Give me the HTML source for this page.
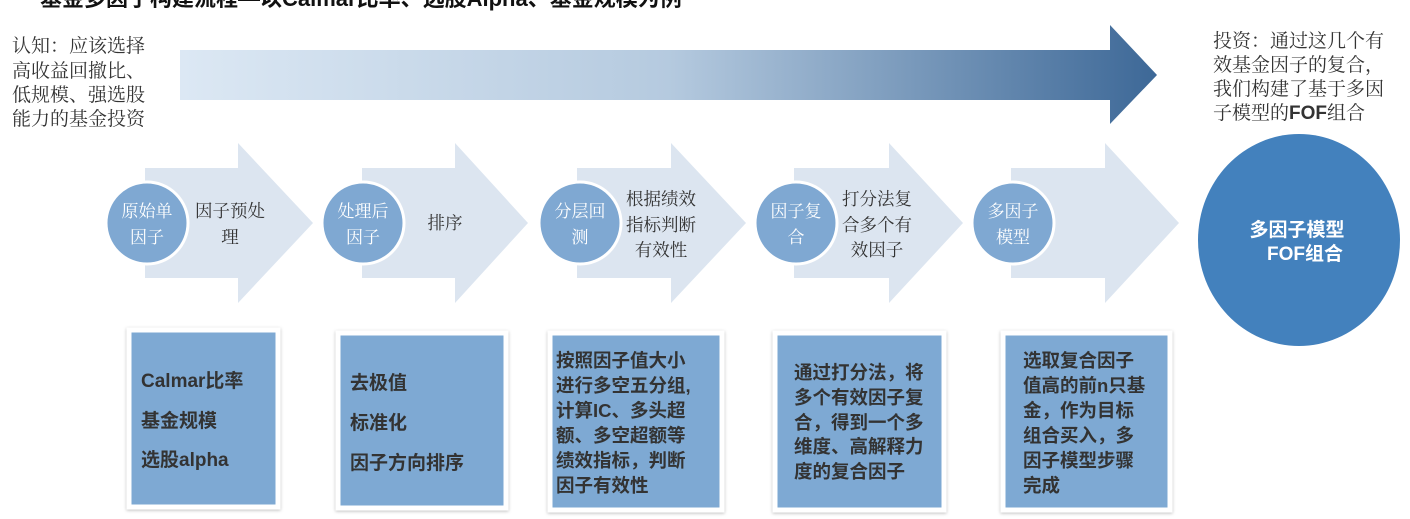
<!DOCTYPE html>
<html><head><meta charset="utf-8"><style>
html,body{margin:0;padding:0;background:#fff;width:1410px;height:519px;overflow:hidden}
svg text{font-family:"Liberation Sans","Noto Sans CJK SC",sans-serif}
svg text.s{font-family:"Noto Serif CJK SC","Liberation Serif",serif}
</style></head><body>
<svg width="1410" height="519" viewBox="0 0 1410 519" xmlns="http://www.w3.org/2000/svg">
<defs>
<linearGradient id="g" x1="0" x2="1" y1="0" y2="0">
<stop offset="0" stop-color="#dce8f4"/><stop offset="0.5" stop-color="#b5cadf"/><stop offset="1" stop-color="#3d6897"/>
</linearGradient>
<filter id="sh" x="-10%" y="-10%" width="120%" height="120%"><feDropShadow dx="0" dy="1" stdDeviation="1.5" flood-color="#000" flood-opacity="0.25"/></filter>
</defs>
<text x="40" y="6" font-size="22" font-weight="bold" fill="#111">基金多因子构建流程—以Calmar比率、选股Alpha、基金规模为例</text>
<polygon points="180,50 1110,50 1110,25 1157,75 1110,124 1110,100 180,100" fill="url(#g)"/>
<g font-size="19" fill="#333">
<text class="s" x="12" y="52">认知：应该选择</text>
<text class="s" x="12" y="77">高收益回撤比、</text>
<text class="s" x="12" y="101">低规模、强选股</text>
<text class="s" x="12" y="125">能力的基金投资</text>
<text class="s" x="1213" y="47">投资：通过这几个有</text>
<text class="s" x="1213" y="71">效基金因子的复合，</text>
<text class="s" x="1213" y="95">我们构建了基于多因</text>
<text class="s" x="1213" y="119">子模型的<tspan font-family="Liberation Sans" font-weight="bold">FOF</tspan>组合</text>
</g>
<g fill="#dce5f0">
<polygon points="145,168 238,168 238,143 313,223 238,303 238,278 145,278"/>
<polygon points="362,168 455,168 455,143 528,223 455,303 455,278 362,278"/>
<polygon points="577,168 671,168 671,143 746,223 671,303 671,278 577,278"/>
<polygon points="794,168 889,168 889,143 963,223 889,303 889,278 794,278"/>
<polygon points="1011,168 1105,168 1105,143 1179,223 1105,303 1105,278 1011,278"/>
</g>
<g fill="#7fa8d2" stroke="#fff" stroke-width="3">
<circle cx="147" cy="223" r="41"/><circle cx="363" cy="223" r="41"/><circle cx="580" cy="223" r="41"/><circle cx="796" cy="223" r="41"/><circle cx="1013" cy="223" r="41"/>
</g>
<g font-size="17" fill="#fff" text-anchor="middle">
<text class="s" x="147" y="217">原始单</text><text class="s" x="147" y="243">因子</text>
<text class="s" x="363" y="217">处理后</text><text class="s" x="363" y="243">因子</text>
<text class="s" x="580" y="217">分层回</text><text class="s" x="580" y="243">测</text>
<text class="s" x="796" y="217">因子复</text><text class="s" x="796" y="243">合</text>
<text class="s" x="1013" y="217">多因子</text><text class="s" x="1013" y="243">模型</text>
</g>
<g font-size="17.5" fill="#333" text-anchor="middle">
<text class="s" x="230" y="217">因子预处</text><text class="s" x="230" y="243">理</text>
<text class="s" x="445" y="229">排序</text>
<text class="s" x="661" y="205">根据绩效</text><text class="s" x="661" y="231">指标判断</text><text class="s" x="661" y="256">有效性</text>
<text class="s" x="877" y="205">打分法复</text><text class="s" x="877" y="231">合多个有</text><text class="s" x="877" y="256">效因子</text>
</g>
<g fill="#7ea9d3" stroke="#fff" stroke-width="5" filter="url(#sh)">
<rect x="129" y="330" width="149" height="177"/>
<rect x="338" y="333" width="168" height="175"/>
<rect x="550" y="333" width="172" height="177"/>
<rect x="775" y="333" width="169" height="177"/>
<rect x="1003" y="333" width="167" height="177"/>
</g>
<g font-size="19" font-weight="bold" fill="#333">
<text x="141" y="387">Calmar比率</text><text x="141" y="427">基金规模</text><text x="141" y="466">选股alpha</text>
<text x="350" y="389">去极值</text><text x="350" y="429">标准化</text><text x="350" y="469">因子方向排序</text>
<g font-size="18.5">
<text x="556" y="367">按照因子值大小</text><text x="556" y="392">进行多空五分组,</text><text x="556" y="417">计算IC、多头超</text><text x="556" y="442">额、多空超额等</text><text x="556" y="467">绩效指标，判断</text><text x="556" y="492">因子有效性</text>
<text x="794" y="379">通过打分法，将</text><text x="794" y="404">多个有效因子复</text><text x="794" y="429">合，得到一个多</text><text x="794" y="453">维度、高解释力</text><text x="794" y="478">度的复合因子</text>
<text x="1023" y="367">选取复合因子</text><text x="1023" y="392">值高的前n只基</text><text x="1023" y="417">金，作为目标</text><text x="1023" y="442">组合买入，多</text><text x="1023" y="467">因子模型步骤</text><text x="1023" y="492">完成</text>
</g>
</g>
<ellipse cx="1299" cy="240" rx="101" ry="106" fill="#4381bd"/>
<g font-size="19" font-weight="bold" fill="#fff" text-anchor="middle">
<text x="1297" y="236">多因子模型</text><text x="1305" y="260">FOF组合</text>
</g>
</svg>
</body></html>
